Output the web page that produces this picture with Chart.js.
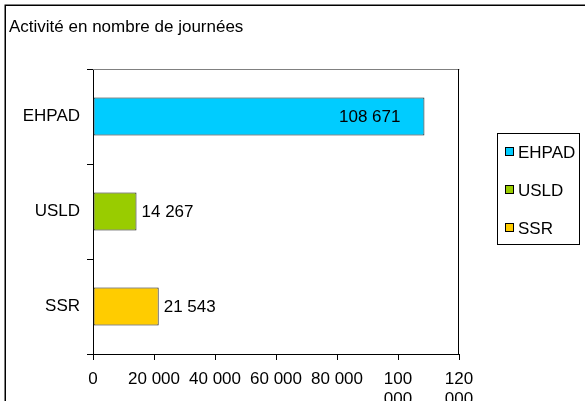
<!DOCTYPE html>
<html>
<head>
<meta charset="utf-8">
<script src="https://cdn.jsdelivr.net/npm/chart.js@4/dist/chart.umd.min.js"></script>
<style>
  html, body { margin: 0; padding: 0; background: #fff; }
  #wrap { width: 585px; height: 401px; position: relative; }
</style>
</head>
<body>
<div id="wrap"><canvas id="c" width="585" height="401"></canvas></div>
<script>
const chartTitle = 'Activité en nombre de journées';
const categories = ['EHPAD', 'USLD', 'SSR'];
const values = [108671, 14267, 21543];
const barColors = ['#00CCFF', '#99CC00', '#FFCC00'];
const xTickMin = 0;
const xTickMax = 120000;
const xTickStep = 20000;

const FONT = '"Liberation Sans", Arial, sans-serif';
const FS = 17;

function fmt(v) {
  return String(v).replace(/\B(?=(\d{3})+(?!\d))/g, ' ');
}

const decor = {
  id: 'decor',
  afterDraw(chart) {
    const ctx = chart.ctx;
    const a = chart.chartArea;
    ctx.save();
    // outer frame
    ctx.strokeStyle = '#000';
    ctx.lineWidth = 1.5;
    ctx.strokeRect(5.25, 5.25, 700, 700);
    // title
    ctx.fillStyle = '#000';
    ctx.font = FS + 'px ' + FONT;
    ctx.textBaseline = 'middle';
    ctx.textAlign = 'left';
    ctx.fillText(chartTitle, 9, 27);
    // plot area top/right border
    ctx.strokeStyle = '#808080';
    ctx.lineWidth = 1;
    ctx.beginPath();
    ctx.moveTo(a.left, a.top + 0.5);
    ctx.lineTo(a.right + 0.5, a.top + 0.5);
    ctx.stroke();
    ctx.strokeStyle = '#000';
    ctx.beginPath();
    ctx.moveTo(a.right - 0.5, a.top);
    ctx.lineTo(a.right - 0.5, a.bottom);
    ctx.stroke();
    // data labels
    const meta = chart.getDatasetMeta(0);
    meta.data.forEach((bar, i) => {
      const txt = fmt(values[i]);
      const w = bar.x - bar.base;
      ctx.fillStyle = '#000';
      ctx.font = FS + 'px ' + FONT;
      ctx.textBaseline = 'middle';
      if (w > 150) {
        ctx.textAlign = 'right';
        ctx.fillText(txt, bar.x - 24, bar.y + 1);
      } else {
        ctx.textAlign = 'left';
        ctx.fillText(txt, bar.x + 5, bar.y + 1);
      }
    });
    // legend
    const lx = 497, ly = 133, lw = 82, lh = 111;
    ctx.strokeStyle = '#000';
    ctx.lineWidth = 1;
    ctx.strokeRect(lx + 0.5, ly + 0.5, lw, lh);
    const rowY = [152, 190, 228];
    categories.forEach((c, i) => {
      ctx.fillStyle = barColors[i];
      ctx.fillRect(505.5, rowY[i] - 4.5, 8, 8);
      ctx.strokeStyle = '#000';
      ctx.strokeRect(505.5, rowY[i] - 4.5, 8, 8);
      ctx.fillStyle = '#000';
      ctx.font = FS + 'px ' + FONT;
      ctx.textAlign = 'left';
      ctx.textBaseline = 'middle';
      ctx.fillText(c, 518, rowY[i] + 1);
    });
    ctx.restore();
  }
};

new Chart(document.getElementById('c'), {
  type: 'bar',
  data: {
    labels: categories,
    datasets: [{
      data: values,
      backgroundColor: barColors,
      borderColor: '#1a1a1a',
      borderWidth: 1,
      borderSkipped: false,
      categoryPercentage: 1.0,
      barPercentage: 0.4
    }]
  },
  options: {
    indexAxis: 'y',
    responsive: false,
    animation: false,
    devicePixelRatio: 1,
    layout: { padding: { left: 0, right: 126, top: 69, bottom: 0 } },
    plugins: {
      legend: { display: false },
      title: { display: false },
      tooltip: { enabled: false }
    },
    scales: {
      x: {
        min: xTickMin,
        max: xTickMax,
        afterFit(s) { s.height = 47; },
        grid: { drawOnChartArea: false, tickLength: 6, color: '#000', offset: false },
        border: { color: '#000', width: 1 },
        ticks: {
          stepSize: xTickStep,
          autoSkip: false,
          maxRotation: 0,
          minRotation: 0,
          padding: 10,
          color: '#000',
          font: { family: FONT, size: FS, lineHeight: 1.15 },
          callback(v) {
            const s = fmt(v);
            return v >= 100000 ? s.split(' ') : s;
          }
        }
      },
      y: {
        afterFit(s) { s.width = 93; },
        grid: { drawOnChartArea: false, tickLength: 6, color: '#000', offset: true },
        border: { color: '#000', width: 1 },
        ticks: {
          padding: 7,
          color: '#000',
          font: { family: FONT, size: FS }
        }
      }
    }
  },
  plugins: [decor]
});
</script>
</body>
</html>
